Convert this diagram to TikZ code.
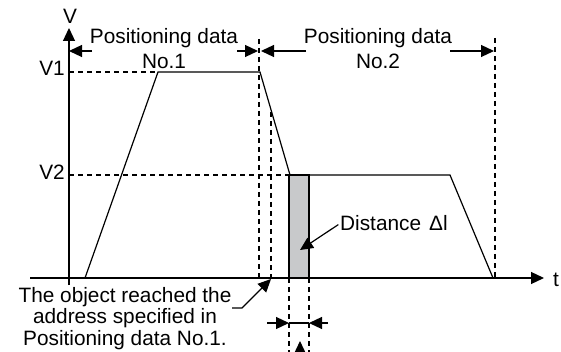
\documentclass[tikz,border=0pt]{standalone}
\usepackage{fontspec}
\setmainfont{Liberation Sans}
\usepackage{xcolor}
\usetikzlibrary{arrows.meta, calc}

\definecolor{boxgray}{RGB}{200,201,203}

\begin{document}
\begin{tikzpicture}[
	x=1pt, y=-1pt,
	every node/.style={font=\fontsize{20.8}{25}\selectfont, inner sep=0pt},
	solid line/.style={line width=1.2pt},
	guide/.style={line width=2.3pt, dash pattern=on 5pt off 4pt},
	dim/.style={-{Triangle[length=13pt, width=12pt]}, line width=1.2pt}
	]
	
	% Marco
	\clip (0,0) rectangle (561,352);
	
	% Ejes
	\coordinate (O)    at (69,285);
	\coordinate (Vtop) at (69,28);
	\coordinate (tl)   at (30,278);
	\coordinate (tr)   at (544,278);
	\draw[dim] (O) -- (Vtop);
	\draw[dim] (tl) -- (tr);
	\node (V) at (70,16.5) {V};
	\node[anchor=west] (t) at (553,279.5) {t};
	
	% Perfil de velocidad
	\coordinate (P0) at (85,278);
	\coordinate (P1) at (158,72);
	\coordinate (P2) at (260,72);
	\coordinate (P3) at (290,175);
	\coordinate (P4) at (450,175);
	\coordinate (P5) at (493,278);
	\draw[solid line] (P0) -- (P1) -- (P2) -- (P3) -- (P4) -- (P5);
	
	% Niveles
	\coordinate (V1a) at (69,72);
	\coordinate (V2a) at (69,175);
	\node[anchor=east] (V1) at (65,68.5) {V1};
	\node[anchor=east] (V2) at (65,172) {V2};
	\draw[guide] (V1a) -- (P1);
	\draw[guide] (V2a) -- (P3);
	
	% Distancia
	\coordinate (Ga) at (289,175);
	\coordinate (Gb) at (309,278);
	\draw[solid line, fill=boxgray] (Ga) rectangle (Gb);
	
	% Lineas de referencia
	\coordinate (A1) at (259,39);
	\coordinate (A2) at (259,278);
	\coordinate (B1) at (271,112);
	\coordinate (B2) at (271,278);
	\coordinate (C1) at (495,38);
	\coordinate (C2) at (495,278);
	\coordinate (D1) at (289,278);
	\coordinate (D2) at (289,352);
	\coordinate (E1) at (309,278);
	\coordinate (E2) at (309,352);
	\draw[guide] (A1) -- (A2);
	\draw[guide] (B1) -- (B2);
	\draw[guide] (C1) -- (C2);
	\draw[guide] (D1) -- (D2);
	\draw[guide] (E1) -- (E2);
	
	% Cotas superiores
	\coordinate (n1l) at (69,51);
	\coordinate (n1r) at (258,51);
	\coordinate (n2l) at (261,51);
	\coordinate (n2r) at (494,51);
	\draw[dim] (92,51) -- (n1l);
	\draw[dim] (237,51) -- (n1r);
	\draw[dim] (306,51) -- (n2l);
	\draw[dim] (450,51) -- (n2r);
	\node[anchor=north, align=center] (pd1) at (164,28) {Positioning data\\No.1};
	\node[anchor=north, align=center] (pd2) at (378,28) {Positioning data\\No.2};
	
	% Cota inferior
	\coordinate (dl) at (289,323);
	\coordinate (dr) at (309,323);
	\draw[solid line] (dl) -- (dr);
	\draw[dim] (267,323) -- (dl);
	\draw[dim] (328,323) -- (dr);
	\coordinate (up) at (300,341);
	\draw[dim] (300,370) -- (up);
	
	% Textos
	\node[anchor=west] (dist) at (340,223.5) {Distance\hspace{8pt}Δl};
	\draw[dim, shorten <=2pt] (dist.west) -- (300,250);
	
	\node[anchor=north, align=center, font=\fontsize{20.8}{21.5}\selectfont] (obj) at (125,287)
	{The object reached the\\address specified in\\Positioning data No.1.};
	\coordinate (objtail) at (232,308);
	\coordinate (reach) at (271,279);
	\draw[dim] (objtail) -- ++(10,0) -- (reach);
	
\end{tikzpicture}
\end{document}
